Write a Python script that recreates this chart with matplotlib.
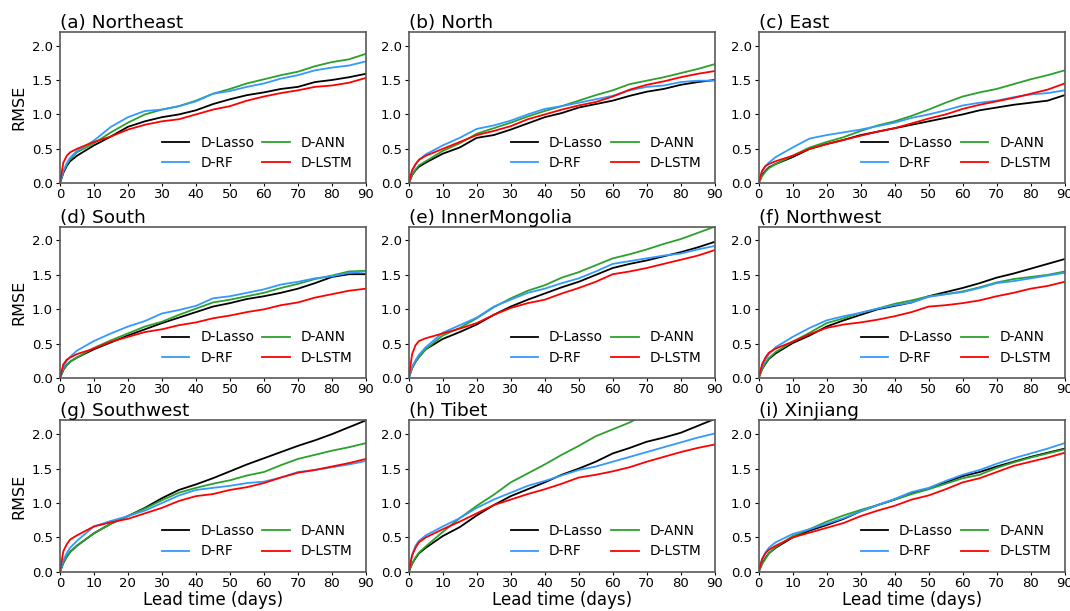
import numpy as np
import matplotlib.pyplot as plt

# lead times (days) at which the curves were read
lead = [0, 1, 2, 3, 5, 10, 15, 20, 25, 30, 35, 40, 45, 50, 55, 60, 65, 70, 75, 80, 85, 90]

models = ["D-Lasso", "D-ANN", "D-RF", "D-LSTM"]
colors = ["black", "#2ca02c", "#3399ff", "red"]

northeast = {
    "D-Lasso": [0, 0.15, 0.25, 0.32, 0.40, 0.55, 0.68, 0.82, 0.90, 0.96, 1.00, 1.06, 1.15, 1.22, 1.28, 1.32, 1.37, 1.40, 1.47, 1.50, 1.54, 1.59],
    "D-ANN":   [0, 0.17, 0.27, 0.35, 0.45, 0.58, 0.74, 0.88, 1.00, 1.07, 1.12, 1.20, 1.30, 1.37, 1.45, 1.51, 1.57, 1.62, 1.70, 1.76, 1.80, 1.88],
    "D-RF":    [0, 0.18, 0.29, 0.37, 0.47, 0.62, 0.82, 0.96, 1.05, 1.07, 1.12, 1.19, 1.30, 1.34, 1.40, 1.45, 1.52, 1.57, 1.64, 1.68, 1.71, 1.77],
    "D-LSTM":  [0, 0.30, 0.40, 0.45, 0.50, 0.60, 0.68, 0.78, 0.85, 0.90, 0.93, 1.00, 1.07, 1.12, 1.20, 1.26, 1.31, 1.35, 1.40, 1.42, 1.46, 1.53],
}
north = {
    "D-Lasso": [0, 0.12, 0.19, 0.24, 0.30, 0.43, 0.52, 0.66, 0.70, 0.78, 0.87, 0.96, 1.02, 1.10, 1.15, 1.20, 1.27, 1.33, 1.37, 1.43, 1.47, 1.50],
    "D-ANN":   [0, 0.12, 0.20, 0.26, 0.32, 0.47, 0.58, 0.72, 0.80, 0.88, 0.97, 1.05, 1.12, 1.20, 1.28, 1.35, 1.44, 1.49, 1.54, 1.60, 1.66, 1.73],
    "D-RF":    [0, 0.18, 0.27, 0.34, 0.42, 0.55, 0.66, 0.79, 0.84, 0.91, 1.00, 1.08, 1.12, 1.17, 1.22, 1.27, 1.35, 1.40, 1.42, 1.47, 1.49, 1.49],
    "D-LSTM":  [0, 0.19, 0.28, 0.34, 0.40, 0.50, 0.60, 0.70, 0.76, 0.83, 0.93, 1.00, 1.07, 1.13, 1.18, 1.26, 1.36, 1.43, 1.48, 1.54, 1.59, 1.63],
}
east = {
    "D-Lasso": [0, 0.12, 0.18, 0.23, 0.28, 0.38, 0.50, 0.57, 0.63, 0.70, 0.75, 0.80, 0.85, 0.90, 0.95, 1.00, 1.06, 1.10, 1.14, 1.17, 1.20, 1.28],
    "D-ANN":   [0, 0.10, 0.17, 0.22, 0.28, 0.40, 0.52, 0.60, 0.67, 0.76, 0.84, 0.90, 0.98, 1.07, 1.17, 1.26, 1.32, 1.37, 1.44, 1.51, 1.57, 1.64],
    "D-RF":    [0, 0.17, 0.25, 0.30, 0.38, 0.52, 0.65, 0.70, 0.74, 0.78, 0.83, 0.88, 0.95, 1.00, 1.06, 1.13, 1.17, 1.20, 1.25, 1.29, 1.31, 1.35],
    "D-LSTM":  [0, 0.18, 0.25, 0.28, 0.32, 0.40, 0.50, 0.57, 0.63, 0.69, 0.75, 0.80, 0.87, 0.94, 1.00, 1.08, 1.14, 1.19, 1.24, 1.30, 1.36, 1.45],
}
south = {
    "D-Lasso": [0, 0.12, 0.19, 0.24, 0.30, 0.42, 0.52, 0.62, 0.71, 0.80, 0.88, 0.96, 1.04, 1.09, 1.15, 1.19, 1.24, 1.30, 1.38, 1.47, 1.51, 1.51],
    "D-ANN":   [0, 0.12, 0.19, 0.24, 0.30, 0.44, 0.55, 0.65, 0.75, 0.82, 0.92, 1.01, 1.10, 1.14, 1.19, 1.24, 1.31, 1.37, 1.44, 1.49, 1.55, 1.56],
    "D-RF":    [0, 0.16, 0.25, 0.31, 0.40, 0.54, 0.65, 0.75, 0.83, 0.94, 0.99, 1.05, 1.16, 1.19, 1.24, 1.29, 1.36, 1.40, 1.45, 1.48, 1.53, 1.55],
    "D-LSTM":  [0, 0.20, 0.27, 0.30, 0.35, 0.43, 0.53, 0.60, 0.67, 0.71, 0.77, 0.81, 0.87, 0.91, 0.96, 1.00, 1.06, 1.10, 1.17, 1.22, 1.27, 1.30],
}
inner_mongolia = {
    "D-Lasso": [0, 0.15, 0.24, 0.31, 0.42, 0.57, 0.67, 0.78, 0.92, 1.04, 1.14, 1.23, 1.32, 1.40, 1.50, 1.60, 1.66, 1.71, 1.77, 1.83, 1.90, 1.98],
    "D-ANN":   [0, 0.15, 0.24, 0.31, 0.42, 0.62, 0.73, 0.87, 1.03, 1.16, 1.27, 1.35, 1.46, 1.54, 1.64, 1.74, 1.80, 1.87, 1.95, 2.02, 2.11, 2.20],
    "D-RF":    [0, 0.17, 0.26, 0.34, 0.45, 0.66, 0.77, 0.88, 1.04, 1.14, 1.24, 1.30, 1.38, 1.45, 1.55, 1.66, 1.70, 1.74, 1.78, 1.81, 1.87, 1.92],
    "D-LSTM":  [0, 0.35, 0.48, 0.54, 0.58, 0.65, 0.72, 0.80, 0.92, 1.02, 1.09, 1.14, 1.23, 1.31, 1.40, 1.51, 1.55, 1.60, 1.66, 1.72, 1.78, 1.86],
}
northwest = {
    "D-Lasso": [0, 0.13, 0.21, 0.28, 0.36, 0.51, 0.62, 0.75, 0.84, 0.92, 1.00, 1.05, 1.10, 1.19, 1.25, 1.31, 1.38, 1.46, 1.52, 1.59, 1.66, 1.73],
    "D-ANN":   [0, 0.13, 0.22, 0.29, 0.38, 0.53, 0.66, 0.80, 0.87, 0.95, 1.01, 1.08, 1.13, 1.19, 1.22, 1.26, 1.32, 1.39, 1.44, 1.47, 1.50, 1.55],
    "D-RF":    [0, 0.17, 0.27, 0.35, 0.45, 0.60, 0.73, 0.84, 0.90, 0.95, 1.01, 1.06, 1.10, 1.18, 1.22, 1.25, 1.31, 1.38, 1.41, 1.45, 1.49, 1.53],
    "D-LSTM":  [0, 0.20, 0.30, 0.37, 0.43, 0.53, 0.64, 0.73, 0.78, 0.81, 0.85, 0.90, 0.96, 1.04, 1.06, 1.09, 1.13, 1.19, 1.24, 1.30, 1.34, 1.40],
}
southwest = {
    "D-Lasso": [0, 0.13, 0.22, 0.29, 0.38, 0.56, 0.70, 0.81, 0.93, 1.07, 1.19, 1.27, 1.36, 1.46, 1.56, 1.65, 1.74, 1.83, 1.91, 2.00, 2.10, 2.20],
    "D-ANN":   [0, 0.13, 0.22, 0.29, 0.38, 0.56, 0.70, 0.81, 0.92, 1.04, 1.15, 1.22, 1.28, 1.33, 1.40, 1.45, 1.55, 1.64, 1.70, 1.76, 1.81, 1.87],
    "D-RF":    [0, 0.17, 0.27, 0.35, 0.45, 0.66, 0.74, 0.81, 0.89, 1.00, 1.11, 1.19, 1.22, 1.25, 1.29, 1.31, 1.37, 1.45, 1.48, 1.52, 1.56, 1.61],
    "D-LSTM":  [0, 0.30, 0.40, 0.47, 0.53, 0.66, 0.72, 0.77, 0.85, 0.93, 1.03, 1.10, 1.13, 1.19, 1.23, 1.29, 1.37, 1.44, 1.48, 1.53, 1.58, 1.64],
}
tibet = {
    "D-Lasso": [0, 0.12, 0.20, 0.27, 0.35, 0.52, 0.65, 0.82, 0.97, 1.10, 1.20, 1.30, 1.41, 1.50, 1.60, 1.72, 1.80, 1.89, 1.95, 2.02, 2.12, 2.22],
    "D-ANN":   [0, 0.12, 0.21, 0.28, 0.37, 0.58, 0.78, 0.96, 1.12, 1.30, 1.43, 1.56, 1.70, 1.83, 1.97, 2.07, 2.17, 2.30, 2.39, 2.47, 2.55, 2.62],
    "D-RF":    [0, 0.25, 0.38, 0.45, 0.53, 0.66, 0.78, 0.93, 1.05, 1.15, 1.25, 1.32, 1.40, 1.48, 1.53, 1.60, 1.67, 1.74, 1.81, 1.88, 1.95, 2.01],
    "D-LSTM":  [0, 0.24, 0.35, 0.43, 0.50, 0.62, 0.73, 0.85, 0.97, 1.05, 1.13, 1.20, 1.28, 1.37, 1.41, 1.46, 1.52, 1.60, 1.67, 1.74, 1.80, 1.85],
}
xinjiang = {
    "D-Lasso": [0, 0.12, 0.20, 0.27, 0.35, 0.50, 0.60, 0.68, 0.77, 0.88, 0.97, 1.05, 1.14, 1.21, 1.30, 1.39, 1.45, 1.53, 1.60, 1.67, 1.73, 1.79],
    "D-ANN":   [0, 0.11, 0.19, 0.27, 0.36, 0.52, 0.62, 0.73, 0.82, 0.90, 0.97, 1.05, 1.13, 1.20, 1.28, 1.36, 1.41, 1.51, 1.59, 1.66, 1.72, 1.78],
    "D-RF":    [0, 0.19, 0.28, 0.35, 0.43, 0.55, 0.62, 0.70, 0.78, 0.88, 0.97, 1.06, 1.16, 1.22, 1.32, 1.41, 1.48, 1.57, 1.65, 1.72, 1.79, 1.87],
    "D-LSTM":  [0, 0.18, 0.27, 0.32, 0.38, 0.50, 0.57, 0.64, 0.71, 0.81, 0.89, 0.96, 1.05, 1.11, 1.20, 1.30, 1.36, 1.45, 1.54, 1.60, 1.66, 1.73],
}

regions = [northeast, north, east, south, inner_mongolia, northwest, southwest, tibet, xinjiang]
titles = ["(a) Northeast", "(b) North", "(c) East", "(d) South", "(e) InnerMongolia",
          "(f) Northwest", "(g) Southwest", "(h) Tibet", "(i) Xinjiang"]

fig = plt.figure(figsize=(10.7, 6.11), dpi=100)
lefts = [0.056, 0.382, 0.709]
bottoms = [0.700, 0.381, 0.064]
w, h = 0.286, 0.248

for k, region in enumerate(regions):
    r, c = divmod(k, 3)
    ax = fig.add_axes([lefts[c], bottoms[r], w, h])
    lines = {}
    for m, col in zip(models, colors):
        lines[m], = ax.plot(lead, region[m], color=col, lw=1.3, label=m)
    ax.set_xlim(0, 90)
    ax.set_ylim(0, 2.2)
    ax.set_xticks(range(0, 91, 10))
    ax.set_yticks([0, 0.5, 1.0, 1.5, 2.0])
    ax.tick_params(axis="x", labelsize=9.5, length=2, pad=1.5)
    ax.tick_params(axis="y", labelsize=9.5, length=3, pad=2)
    for s in ax.spines.values():
        s.set_color("0.35")
        s.set_linewidth(1.2)
    ax.set_title(titles[k], loc="left", fontsize=13.3, pad=3)
    if c == 0:
        ax.set_ylabel("RMSE", fontsize=11.5)
    if r == 2:
        ax.set_xlabel("Lead time (days)", fontsize=12, labelpad=1)
    order = ["D-Lasso", "D-RF", "D-ANN", "D-LSTM"]
    ax.legend([lines[m] for m in order], order, loc="lower right", ncol=2,
              frameon=False, fontsize=9.8, handlelength=2.0,
              columnspacing=0.6, labelspacing=0.45, borderaxespad=0.6)

fig.savefig("out.png", dpi=100)
